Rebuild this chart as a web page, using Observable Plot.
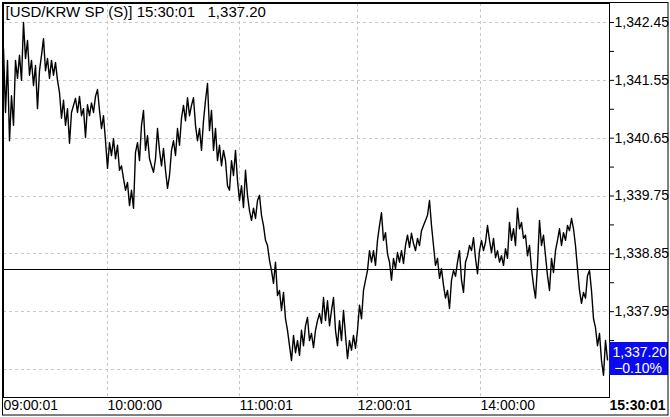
<!DOCTYPE html>
<html><head><meta charset="utf-8">
<script src="https://cdn.jsdelivr.net/npm/d3@7"></script>
<script src="https://cdn.jsdelivr.net/npm/@observablehq/plot@0.6"></script>
<style>
body{margin:0;background:#fff;}
#chart{width:670px;height:417px;overflow:hidden;}
</style></head><body><div id="chart"></div>
<script>
const symbol = "USD/KRW SP (S)";
const lastTimeLabel = "15:30:01";
const prevClose = 1338.60;
const prices = [
1342.04,1341.05,1341.86,1340.61,1341.31,1340.85,1341.86,1341.58,1341.94,1341.55,
1342.45,1341.89,1342.17,1341.63,1341.86,1341.47,1341.78,1341.11,1341.70,1341.94,
1342.20,1341.70,1341.89,1341.58,1341.86,1341.63,1341.83,1341.55,1341.36,1340.96,
1341.24,1340.85,1341.11,1340.57,1341.05,1341.16,1341.27,1341.05,1341.30,1341.00,
1341.11,1340.66,1341.17,1341.00,1341.20,1341.05,1341.30,1341.41,1341.08,1340.80,
1341.00,1340.61,1340.18,1340.58,1340.38,1340.64,1340.33,1340.54,1340.15,1340.22,
1340.02,1339.84,1339.96,1339.60,1339.84,1339.56,1340.43,1340.58,1340.30,1340.85,
1341.08,1340.46,1340.69,1340.33,1340.22,1340.12,1340.33,1340.80,1340.46,1340.22,
1340.49,1340.15,1339.87,1340.07,1340.46,1340.61,1340.38,1340.80,1340.54,1340.96,
1341.16,1340.92,1341.28,1341.00,1341.16,1341.28,1340.85,1340.61,1340.80,1340.46,
1340.92,1341.24,1341.50,1340.77,1341.08,1340.46,1340.80,1340.30,1340.54,1340.22,
1340.46,1340.30,1339.91,1339.84,1340.30,1340.07,1340.46,1339.99,1339.68,1339.91,
1339.57,1340.15,1339.76,1339.52,1339.37,1339.56,1339.40,1339.68,1339.76,1339.45,
1339.29,1339.06,1338.98,1338.75,1338.59,1338.39,1338.72,1338.20,1338.28,1337.97,
1338.25,1337.84,1337.66,1337.42,1337.19,1337.58,1337.31,1337.50,1337.27,1337.66,
1337.42,1337.73,1337.86,1337.50,1337.61,1337.39,1337.66,1337.81,1337.92,1337.77,
1338.17,1337.81,1338.12,1337.73,1337.97,1338.17,1337.66,1337.42,1337.81,1337.50,
1337.97,1337.58,1337.22,1337.50,1337.35,1337.58,1337.38,1337.66,1338.05,1337.84,
1338.28,1338.44,1338.59,1338.90,1338.72,1338.90,1338.67,1339.06,1339.29,1339.49,
1339.06,1339.18,1338.85,1338.72,1338.44,1338.78,1338.62,1338.87,1338.72,1338.90,
1338.70,1338.98,1339.14,1338.95,1339.17,1339.01,1338.90,1339.09,1338.98,1339.21,
1339.29,1339.37,1339.45,1339.68,1339.29,1338.98,1338.67,1338.78,1338.47,1338.62,
1338.36,1338.16,1338.28,1338.00,1338.44,1338.59,1338.50,1338.72,1338.90,1338.44,
1338.25,1338.72,1338.82,1338.98,1338.90,1339.10,1338.78,1338.54,1338.90,1339.06,
1338.90,1339.03,1339.29,1339.06,1338.87,1339.09,1338.79,1338.90,1338.72,1338.82,
1338.67,1338.93,1338.78,1339.34,1339.06,1339.24,1338.98,1339.56,1339.24,1339.34,
1339.09,1339.14,1338.82,1338.98,1338.62,1338.36,1338.16,1338.67,1339.37,1338.98,
1339.14,1338.82,1338.51,1338.28,1338.78,1338.56,1338.90,1339.06,1339.24,1338.98,
1339.18,1339.06,1339.29,1339.21,1339.40,1339.24,1338.98,1338.62,1338.28,1338.08,
1338.25,1338.16,1338.51,1338.59,1338.28,1337.84,1337.70,1337.42,1337.61,1337.19,
1336.96,1337.50,1337.20
];
const timeTickIndex = [0, 52, 118, 177, 238.5];
const timeTickLabels = ["09:00:01", "10:00:00", "11:00:01", "12:00:01", "14:00:00"];
const priceTicks = [1342.45, 1341.55, 1340.65, 1339.75, 1338.85, 1337.95];
const gridPrices = [1342.45, 1341.55, 1340.65, 1339.75, 1338.85, 1337.95, 1337.05];
const minorPriceTicks = [1342.00, 1341.10, 1340.20, 1339.30, 1338.40, 1337.50];

const data = prices.map((p, i) => ({i, p}));
const lastPrice = prices[prices.length - 1];
const changePct = (lastPrice - prevClose) / prevClose * 100;
const fmt = d3.format(",.2f");
const labelOf = new Map(timeTickIndex.map((t, k) => [t, timeTickLabels[k]]));
const W = 670, H = 417;

function lastPriceBox(index, scales, values, dims) {
  const y = scales.y(lastPrice);
  const x0 = dims.width - dims.marginRight;
  const g = d3.create("svg:g");
  g.append("rect").attr("x", x0).attr("y", Math.round(y) - 17).attr("width", 59).attr("height", 33).attr("fill", "#0a0af2");
  g.append("text").attr("x", x0 + 58).attr("y", Math.round(y) - 2).attr("text-anchor", "end")
    .attr("fill", "#fff").attr("font-size", 14).text(fmt(lastPrice));
  g.append("text").attr("x", x0 + 53).attr("y", Math.round(y) + 14).attr("text-anchor", "end")
    .attr("fill", "#fff").attr("font-size", 14).text(d3.format(".2f")(changePct) + "%");
  return g.node();
}
function outerBorder(index, scales, values, dims) {
  return d3.create("svg:rect").attr("x", 2.5).attr("y", 2.5).attr("width", dims.width - 4.5).attr("height", dims.height - 4.5)
    .attr("fill", "none").attr("stroke", "#000").node();
}

const chart = Plot.plot({
  width: W, height: H,
  marginLeft: 3, marginTop: 3, marginRight: 61, marginBottom: 20,
  style: {fontFamily: "'Liberation Sans', Arial, sans-serif", fontSize: "14px", background: "#fff", color: "#000"},
  x: {domain: [0, prices.length], axis: null},
  y: {domain: [1336.614, 1342.746], axis: null},
  marks: [
    Plot.gridY(gridPrices, {stroke: "#c8c8c8", strokeOpacity: 1, strokeDasharray: "3,3", shapeRendering: "crispEdges"}),
    Plot.gridX(timeTickIndex.slice(1), {stroke: "#c8c8c8", strokeOpacity: 1, strokeDasharray: "3,3", shapeRendering: "crispEdges"}),
    Plot.ruleY([prevClose], {stroke: "#000", strokeWidth: 1, shapeRendering: "crispEdges"}),
    Plot.line(data, {x: "i", y: "p", stroke: "#000", strokeWidth: 1.4}),
    Plot.frame({stroke: "#000"}),
    Plot.axisY(priceTicks, {anchor: "right", tickSize: 4, tickPadding: 1, tickFormat: fmt, fontSize: 14, label: null}),
    Plot.axisY(minorPriceTicks, {anchor: "right", tickSize: 4, tickFormat: () => "", label: null}),
    Plot.axisX(timeTickIndex, {anchor: "bottom", tickSize: 0, tickPadding: 3, textAnchor: "start", tickFormat: d => labelOf.get(d), fontSize: 14, label: null}),
    Plot.axisX([prices.length], {anchor: "bottom", tickSize: 0, tickPadding: 3, textAnchor: "start", tickFormat: () => lastTimeLabel, fontSize: 14, fontWeight: "bold", label: null}),
    Plot.text([`[${symbol}] ${lastTimeLabel}   ${fmt(lastPrice)}`], {frameAnchor: "top-left", dx: 2, dy: 3, fontSize: 15, fill: "#000"}),
    lastPriceBox,
    outerBorder
  ]
});
document.getElementById("chart").appendChild(chart);
</script>
</body></html>
